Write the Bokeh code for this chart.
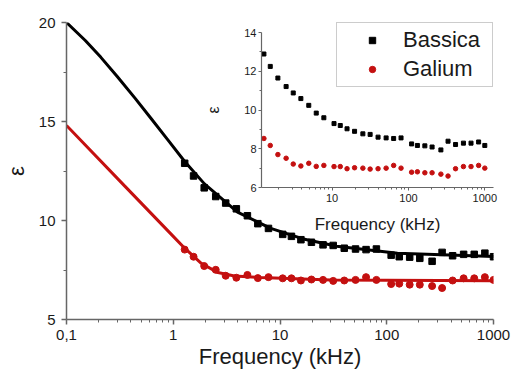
from bokeh.plotting import figure
from bokeh.models import FixedTicker, CustomJSTickFormatter, Range1d, Legend, LegendItem
from bokeh.layouts import column
from bokeh.embed import file_html
from bokeh.resources import INLINE

# ---- data ----
freq_khz = [1.28, 1.55, 1.95, 2.5, 3.1, 3.9, 4.95, 6.2, 7.8, 10.6,
            12.8, 15.7, 19.7, 25.3, 31.5, 40, 51, 64, 80, 110,
            131, 164, 204, 266, 330, 414, 525, 660, 830, 1000]
bassica = [12.89, 12.25, 11.65, 11.21, 10.88, 10.59, 10.24, 9.84, 9.6, 9.3,
           9.2, 9.03, 8.9, 8.77, 8.74, 8.6, 8.56, 8.53, 8.56, 8.25,
           8.17, 8.15, 8.09, 7.94, 8.39, 8.22, 8.29, 8.29, 8.35, 8.17]
galium = [8.53, 8.17, 7.70, 7.51, 7.21, 7.11, 7.25, 7.09, 7.14, 7.08,
          7.08, 6.97, 7.02, 7.0, 6.95, 6.97, 7.0, 7.14, 7.0, 6.79,
          6.81, 6.76, 6.76, 6.69, 6.59, 6.97, 7.08, 7.08, 7.14, 7.0]

fit_bassica_f = [0.1, 0.15, 0.21, 0.3, 0.44, 0.62, 0.89, 1.28, 1.96, 4.0, 8.2, 17, 34, 126, 1000]
fit_bassica_e = [20.0, 19.09, 18.24, 17.26, 16.17, 15.15, 14.07, 12.98, 11.85, 10.42, 9.6, 9.05, 8.7, 8.35, 8.18]
fit_galium_f = [0.1, 0.35, 1.0, 1.28, 1.83, 2.62, 3.74, 6.6, 30, 1000]
fit_galium_e = [14.8, 11.75, 9.2, 8.6, 7.84, 7.37, 7.2, 7.12, 7.0, 6.96]

main_x_ticks = [0.1, 1, 10, 100, 1000]
main_y_ticks = [5, 10, 15, 20]
main_y_minor = [7.5, 12.5, 17.5]
inset_x_ticks = [10, 100, 1000]
inset_y_ticks = [6, 8, 10, 12, 14]
inset_y_minor = [7, 9, 11, 13]

series_names = ["Bassica", "Galium"]
x_label = "Frequency (kHz)"
y_label = "ε"

FONT = "Liberation Sans"
BLACK = "#000000"
RED = "#c41010"
AXIS = "#666666"
TXT = "#1a1a1a"

log_minor_main = [m * 10.0 ** e for e in range(-1, 3) for m in range(2, 10)]
log_minor_inset = [m * 10.0 ** e for e in range(0, 4) for m in range(2, 10)]

# ---- main figure ----
p = figure(width=513, height=372, x_axis_type="log",
           x_range=Range1d(0.1, 1000), y_range=Range1d(5, 20),
           output_backend="svg", toolbar_location=None,
           min_border_left=65, min_border_right=20,
           min_border_top=22, min_border_bottom=53)
p.outline_line_color = None
p.xgrid.visible = False
p.ygrid.visible = False

p.line(fit_bassica_f, fit_bassica_e, line_color=BLACK, line_width=3)
p.line(fit_galium_f, fit_galium_e, line_color=RED, line_width=3)
r_b = p.scatter(freq_khz, bassica, marker="square", size=6.5, color=BLACK)
r_g = p.scatter(freq_khz, galium, marker="circle", size=7, color=RED)

for ax in (p.xaxis[0], p.yaxis[0]):
    ax.axis_line_color = AXIS
    ax.axis_line_width = 1.5
    ax.major_tick_line_color = AXIS
    ax.minor_tick_line_color = AXIS
    ax.major_tick_line_width = 1.5
    ax.major_tick_out = 5
    ax.major_tick_in = 0
    ax.minor_tick_out = 3
    ax.minor_tick_in = 0
    ax.major_label_text_font = FONT
    ax.major_label_text_font_size = "15px"
    ax.major_label_text_color = TXT
    ax.axis_label_text_font = FONT
    ax.axis_label_text_font_style = "normal"
    ax.axis_label_text_color = TXT

p.xaxis.ticker = FixedTicker(ticks=main_x_ticks, minor_ticks=log_minor_main)
p.xaxis.formatter = CustomJSTickFormatter(code="return tick < 0.5 ? '0,1' : tick.toFixed(0);")
p.xaxis.major_label_standoff = 5
p.xaxis.axis_label = x_label
p.xaxis.axis_label_text_font_size = "22px"
p.xaxis.axis_label_standoff = 1

p.yaxis.ticker = FixedTicker(ticks=main_y_ticks, minor_ticks=main_y_minor)
p.yaxis.major_label_standoff = 6
p.yaxis.axis_label = y_label
p.yaxis.axis_label_text_font_size = "22px"
p.yaxis.axis_label_standoff = 7

legend = Legend(items=[LegendItem(label=series_names[0], renderers=[r_b]),
                       LegendItem(label=series_names[1], renderers=[r_g])],
                location="top_right")
legend.margin = 0
legend.padding = 4
legend.spacing = 3
legend.glyph_width = 62
legend.glyph_height = 16
legend.label_standoff = 0
legend.label_width = 85
legend.label_text_font = FONT
legend.label_text_font_size = "22px"
legend.label_text_color = TXT
legend.border_line_color = "#999999"
legend.border_line_width = 1.5
legend.background_fill_color = "white"
legend.background_fill_alpha = 1.0
p.add_layout(legend)

# ---- inset figure ----
ins = figure(width=318, height=214, x_axis_type="log",
             x_range=Range1d(1.19, 1300), y_range=Range1d(6, 14),
             output_backend="svg", toolbar_location=None,
             min_border_left=60, min_border_right=10,
             min_border_top=10, min_border_bottom=49,
             background_fill_color=None, border_fill_color=None)
ins.outline_line_color = None
ins.xgrid.visible = False
ins.ygrid.visible = False
ins.scatter(freq_khz, bassica, marker="square", size=4, color=BLACK)
ins.scatter(freq_khz, galium, marker="circle", size=4.5, color=RED)

for ax in (ins.xaxis[0], ins.yaxis[0]):
    ax.axis_line_color = AXIS
    ax.axis_line_width = 1.2
    ax.major_tick_line_color = AXIS
    ax.minor_tick_line_color = AXIS
    ax.major_tick_out = 3
    ax.major_tick_in = 0
    ax.minor_tick_out = 2
    ax.minor_tick_in = 0
    ax.major_label_text_font = FONT
    ax.major_label_text_font_size = "11px"
    ax.major_label_text_color = TXT
    ax.axis_label_text_font = FONT
    ax.axis_label_text_font_style = "normal"
    ax.axis_label_text_color = TXT

ins.xaxis.ticker = FixedTicker(ticks=inset_x_ticks, minor_ticks=log_minor_inset)
ins.xaxis.formatter = CustomJSTickFormatter(code="return tick.toFixed(0);")
ins.xaxis.major_label_standoff = 3
ins.xaxis.axis_label = x_label
ins.xaxis.axis_label_text_font_size = "17px"
ins.xaxis.axis_label_standoff = 10

ins.yaxis.ticker = FixedTicker(ticks=inset_y_ticks, minor_ticks=inset_y_minor)
ins.yaxis.major_label_standoff = 2
ins.yaxis.axis_label = y_label
ins.yaxis.axis_label_text_font_size = "16px"
ins.yaxis.axis_label_standoff = 19

ins.styles = {"position": "absolute", "left": "195px", "top": "22px"}

layout = column(p, ins, styles={"position": "relative"})

with open("out.html", "w") as f:
    f.write(file_html(layout, INLINE))
